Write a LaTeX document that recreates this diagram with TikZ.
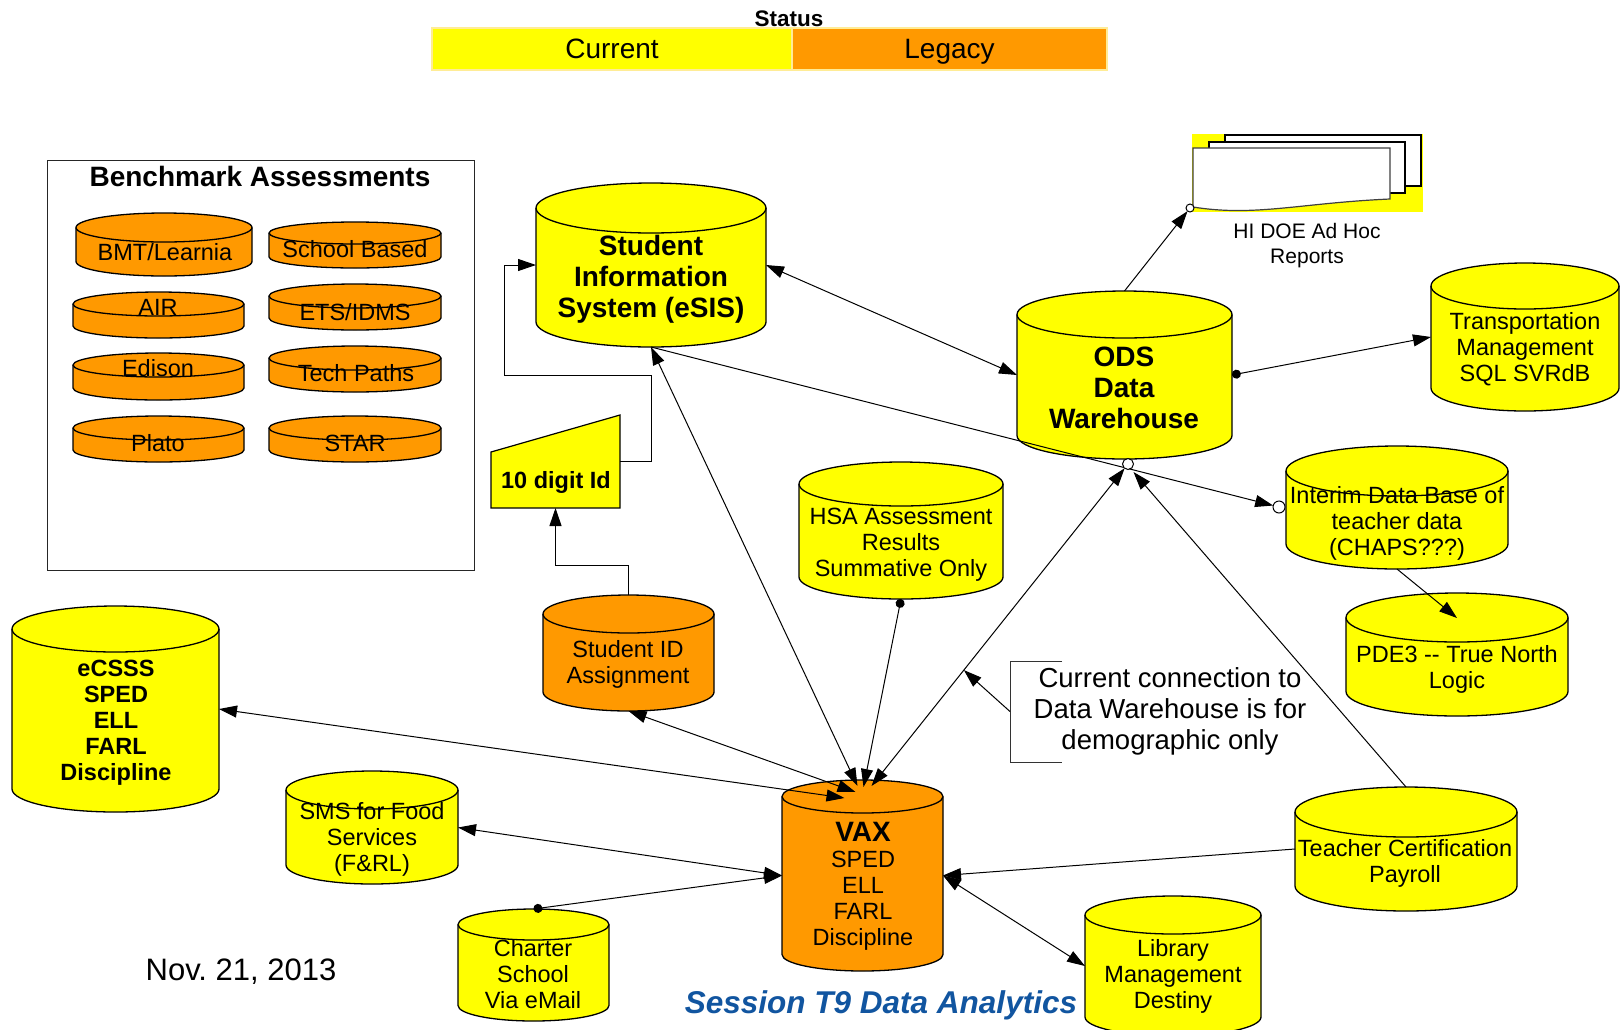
\documentclass[tikz,border=0pt]{standalone}
\usepackage{fontspec}
\setmainfont{Liberation Sans}
\usetikzlibrary{arrows.meta}
\definecolor{dbyellow}{RGB}{255,255,0}
\definecolor{dborange}{RGB}{255,153,0}
\definecolor{sessblue}{RGB}{17,85,160}
\definecolor{legedge}{RGB}{255,236,150}
\frenchspacing
\newcommand\dbcyl[7]{%
  \pgfmathsetmacro\cylcx{(#3+#5)/2}%
  \pgfmathsetmacro\cylcy{-(#4+#6)/2}%
  \pgfmathsetmacro\cylrx{(#5-#3)/2}%
  \pgfmathsetmacro\cylw{#5-#3}%
  \pgfmathsetmacro\cylh{#6-#4}%
  \filldraw[cylline, fill=#2] (#3,-#4-#7) -- (#3,-#6+#7)
     arc[start angle=180, end angle=360, x radius=\cylrx, y radius=#7]
     -- (#5,-#4-#7)
     arc[start angle=0, end angle=180, x radius=\cylrx, y radius=#7] -- cycle;
  \draw[cylline] (#3,-#4-#7) arc[start angle=180, end angle=360, x radius=\cylrx, y radius=#7];
  \node[box, minimum width=\cylw pt, minimum height=\cylh pt] (#1) at (\cylcx,\cylcy) {};
}
\tikzset{
  cylline/.style={line width=1.3pt, draw=black},
  box/.style={draw=none, inner sep=0pt, outer sep=0pt, rectangle},
  smtxt/.style={align=center, inner sep=0pt, font=\fontsize{23.5}{26}\selectfont},
  txt/.style={align=center, inner sep=0pt, yshift=-2.5pt, font=\fontsize{23.5}{26}\selectfont},
  btxt/.style={align=center, inner sep=0pt, yshift=-2.5pt, font=\fontsize{23.5}{26}\selectfont\bfseries},
  bigtxt/.style={align=center, inner sep=0pt, yshift=-2pt, font=\fontsize{28}{31}\selectfont\bfseries},
  conn/.style={draw=black, line width=1pt},
  arrowT/.tip={Triangle[length=18pt,width=12pt]},
  dotT/.tip={Circle[length=9pt]},
  legbox/.style={rectangle, draw=legedge, line width=2pt, inner sep=0pt, text height=22pt, text depth=4pt, font=\fontsize{28}{30}\selectfont},
}
\begin{document}
\begin{tikzpicture}[x=1pt,y=1pt]
\path[use as bounding box] (0,0) rectangle (1620,-1029);
\clip (0,0) rectangle (1620,-1029);
\fill[white] (0,0) rectangle (1620,-1029);

% legend
\node[font=\fontsize{22.5}{24}\selectfont\bfseries, inner sep=0pt] (status) at (789,-19) {Status};
\node[legbox, fill=dbyellow, minimum width=360pt, minimum height=42pt] (cur) at (612,-49) {Current};
\node[legbox, fill=dborange, minimum width=315pt, minimum height=42pt] (leg) at (949.5,-49) {Legacy};

% benchmark box
\node[draw=black!85, line width=1pt, box, draw, minimum width=426.5pt, minimum height=410pt] (bench) at (260.75,-365) {};
\node[inner sep=0pt, font=\fontsize{28}{30}\selectfont\bfseries] (benchtitle) at (260,-176) {Benchmark Assessments};
\dbcyl{bmt}{dborange}{76}{213}{252}{276}{14.5}
\dbcyl{school}{dborange}{269}{222}{441}{268}{11}
\dbcyl{air}{dborange}{73}{292}{244}{338}{12}
\dbcyl{ets}{dborange}{269}{284}{441}{330}{12}
\dbcyl{edison}{dborange}{73}{353}{244}{400}{12}
\dbcyl{tech}{dborange}{269}{346}{441}{392}{12}
\dbcyl{plato}{dborange}{73}{416}{244}{462}{12}
\dbcyl{star}{dborange}{269}{416}{441}{462}{12}
\node[smtxt] (bmtt) at (165,-252) {BMT/Learnia};
\node[smtxt] (schoolt) at (355,-249) {School Based};
\node[smtxt] (airt) at (158,-307) {AIR};
\node[smtxt] (etst) at (355,-312) {ETS/IDMS};
\node[smtxt] (edisont) at (158,-368) {Edison};
\node[smtxt] (techt) at (356,-373) {Tech Paths};
\node[smtxt] (platot) at (158,-443) {Plato};
\node[smtxt] (start) at (355,-443) {STAR};

% main cylinders
\dbcyl{esis}{dbyellow}{536}{183}{766}{347}{25}
\dbcyl{ods}{dbyellow}{1017}{291}{1232}{459}{23.5}
\dbcyl{hsa}{dbyellow}{799}{462}{1003}{599}{22}
\dbcyl{sid}{dborange}{543}{595}{714}{711}{19}
\dbcyl{ecsss}{dbyellow}{12}{606}{219}{812}{23}
\dbcyl{sms}{dbyellow}{286}{771}{458}{884}{19}
\dbcyl{charter}{dbyellow}{458}{909}{609}{1021}{15.5}
\dbcyl{vax}{dborange}{782}{780}{943}{971}{16.5}
\dbcyl{library}{dbyellow}{1085}{896}{1261}{1036}{19}
\dbcyl{teacher}{dbyellow}{1295}{787}{1517}{911}{25}
\dbcyl{pde3}{dbyellow}{1346}{593}{1568}{716}{24.5}
\dbcyl{interim}{dbyellow}{1286}{446}{1508}{569}{25}
\dbcyl{trans}{dbyellow}{1431}{263}{1619}{411}{23}

\node[bigtxt] (esist) at (651,-277) {Student\\Information\\System (eSIS)};
\node[bigtxt] (odst) at (1124,-386) {ODS\\Data\\Warehouse};
\node[txt] (hsat) at (901,-542) {HSA Assessment\\Results\\Summative Only};
\node[txt] (sidt) at (628,-662) {Student ID\\Assignment};
\node[btxt] (ecssst) at (116,-720) {eCSSS\\SPED\\ELL\\FARL\\Discipline};
\node[txt] (smst) at (372,-837) {SMS for Food\\Services\\(F\&RL)};
\node[txt] (chartert) at (533,-972) {Charter\\School\\Via eMail};
\node[inner sep=0pt, font=\fontsize{28}{30}\selectfont\bfseries] (vaxt) at (863,-832) {VAX};
\node[txt] (vaxt2) at (863,-898.5) {SPED\\ELL\\FARL\\Discipline};
\node[txt] (libraryt) at (1173,-974) {Library\\Management\\Destiny};
\node[txt] (teachert) at (1405,-860.5) {Teacher Certification\\Payroll};
\node[txt] (pde3t) at (1457,-667) {PDE3 -{}- True North\\Logic};
\node[txt] (interimt) at (1397,-520.5) {Interim Data Base of\\teacher data\\(CHAPS???)};
\node[txt] (transt) at (1525,-347) {Transportation\\Management\\SQL SVRdB};

% 10 digit Id
\draw[fill=dbyellow, line width=1.2pt] (491,-508) -- (491,-452) -- (620,-415) -- (620,-508) -- cycle;
\node[box, minimum width=129pt, minimum height=93pt] (tdi) at (555.5,-461.5) {};
\node[btxt] (tdit) at (556,-480) {10 digit Id};

% reports
\fill[dbyellow] (1192,-134) rectangle (1423,-212);
\draw[fill=white, line width=1.2pt] (1225,-135) rectangle (1421,-186);
\draw[fill=white, line width=1.2pt] (1209,-142) rectangle (1405,-193);
\draw[fill=white, line width=1.2pt, draw=black!75] (1193,-148) -- (1390,-148) -- (1390,-199)
   .. controls (1300,-203) and (1255,-217) .. (1193,-207) -- cycle;
\node[box, minimum width=197pt, minimum height=60pt] (rpt) at (1291.5,-178) {};
\node[align=center, inner sep=0pt, yshift=-3pt, font=\fontsize{21}{25}\selectfont] (rptt) at (1307,-242.5) {HI DOE Ad Hoc\\Reports};

% annotation
\node[box, align=center, minimum width=320pt, minimum height=101pt, font=\fontsize{27.5}{31}\selectfont] (note) at (1170,-711.5) {Current connection to\\Data Warehouse is for\\demographic only};
\draw[line width=1pt, black!80] ([xshift=52]note.north west) -- (note.north west) -- (note.south west) -- ([xshift=52]note.south west);

% footer texts
\node[inner sep=0pt, yshift=-3pt, font=\fontsize{31}{33}\selectfont] (nov) at (241,-969) {Nov. 21, 2013};
\node[inner sep=0pt, yshift=-3pt, font=\fontsize{31.5}{33}\selectfont\bfseries\itshape, text=sessblue] (session) at (881,-1002) {Session T9 Data Analytics};

% connectors
\coordinate (rptpt) at ([xshift=-3]rpt.south west);
\coordinate (intpt) at (1279,-507);
\coordinate (odsb) at (1128,-464);

\draw[conn, arrowT-arrowT] (esis.east) -- (ods.west);
\draw[conn, -arrowT, shorten >=4pt] (ods.north) -- (rptpt);
\draw[conn, dotT-arrowT] (ods.east) -- (trans.west);
\draw[conn, -arrowT, shorten >=6pt] (esis.south) -- (intpt);
\draw[conn, -arrowT] (interim.south) -- ([yshift=-25]pde3.north);
\draw[conn, arrowT-arrowT] ([xshift=-5,yshift=-6]vax.north) -- (esis.south);
\draw[conn, dotT-arrowT] (hsa.south) -- ([xshift=1,yshift=-7]vax.north);
\draw[conn, arrowT-arrowT, shorten >=5.5pt] ([xshift=9,yshift=-6]vax.north) -- coordinate[pos=0.36] (onl) (odsb);
\draw[conn, -arrowT] (teacher.north) -- ([xshift=9,yshift=-13]ods.south);
\draw[conn, -arrowT] (teacher.west) -- (vax.east);
\draw[conn, arrowT-arrowT] (library.west) -- (vax.east);
\draw[conn, arrowT-arrowT] (sms.east) -- (vax.west);
\draw[conn, dotT-arrowT] (charter.north) -- (vax.west);
\draw[conn, arrowT-arrowT] ([xshift=-18,yshift=-18]vax.north) -- (ecsss.east);
\draw[conn, arrowT-arrowT] ([xshift=-7,yshift=-12]vax.north) -- (sid.south);
\draw[conn, -arrowT] (sid.north) -- ++(0,30) -| (tdi.south);
\draw[conn, -arrowT] (tdi.east) -- ++(31,0) -- ++(0,86) -- ++(-147,0) |- (esis.west);
\draw[conn, -arrowT] (note.west) -- (onl);

\draw[line width=1pt, fill=white] (rptpt) circle (4);
\draw[line width=1pt, fill=white] (intpt) circle (6);
\draw[line width=1pt, fill=white] (odsb) circle (5.5);
\end{tikzpicture}
\end{document}
